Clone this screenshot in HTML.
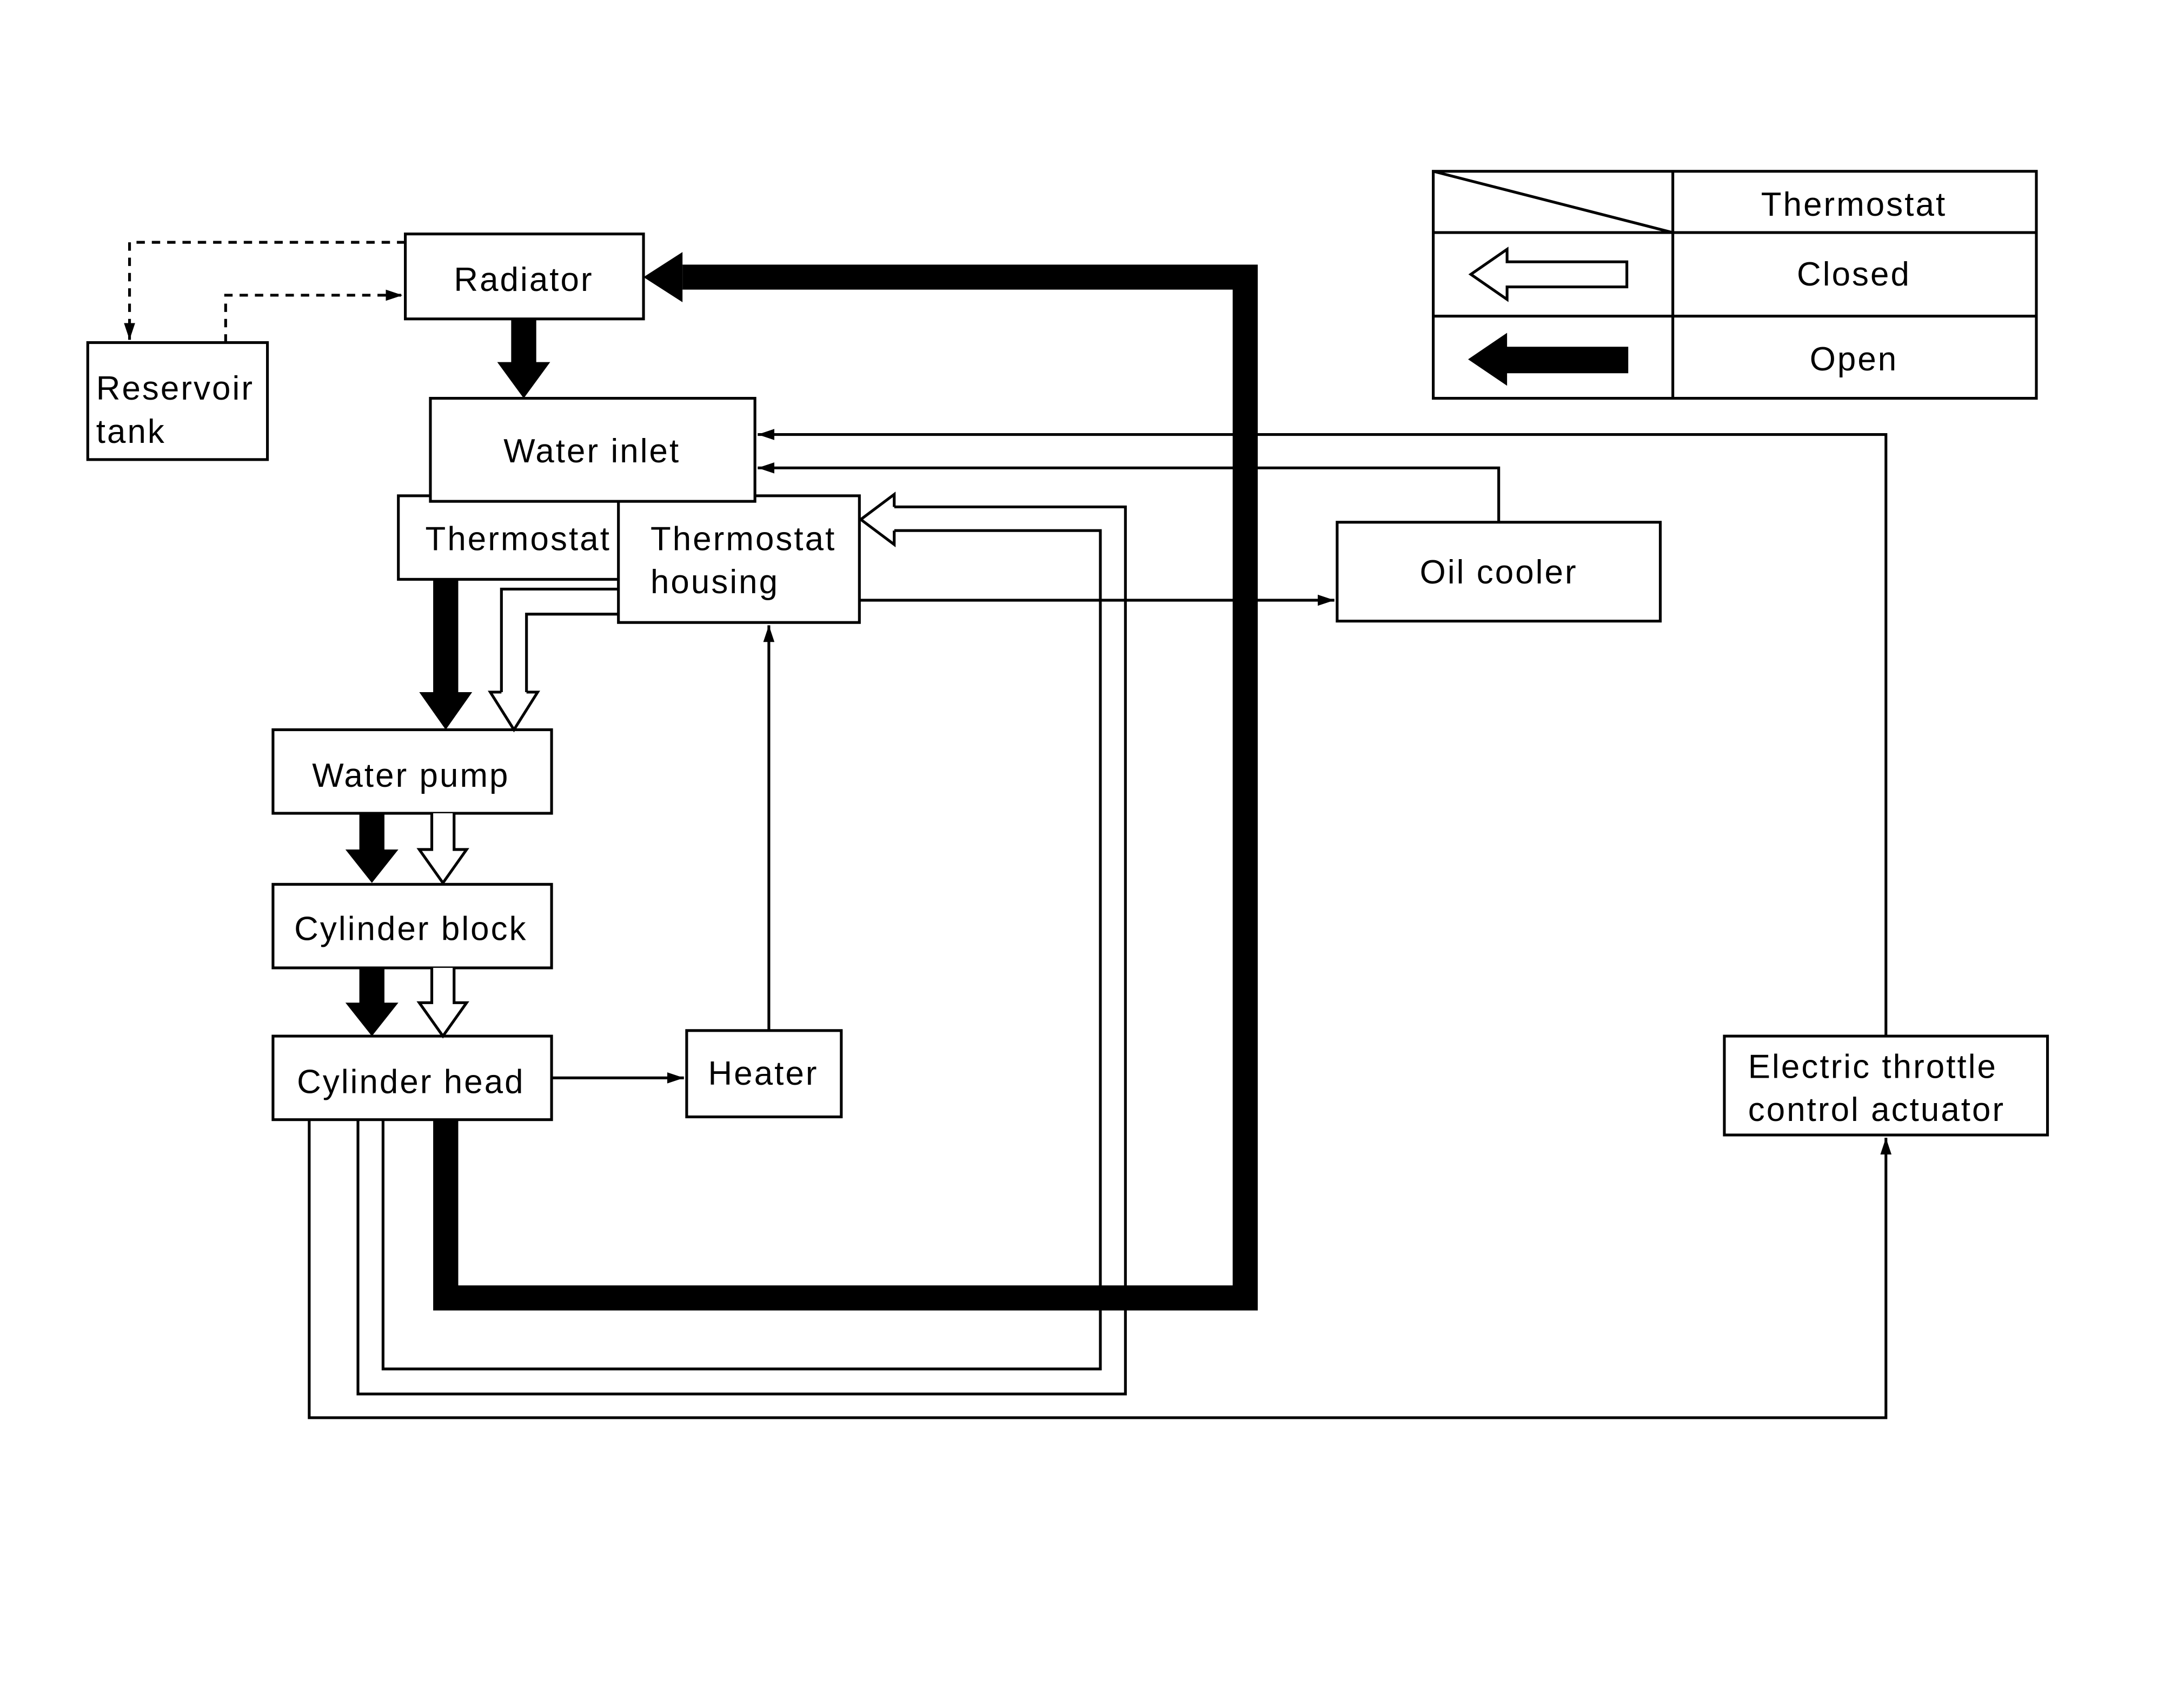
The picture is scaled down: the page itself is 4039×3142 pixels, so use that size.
<!DOCTYPE html>
<html><head><meta charset="utf-8"><style>
html,body{margin:0;padding:0;background:#fff;}
svg{display:block;}
text{font-family:"Liberation Sans",sans-serif;font-size:24px;letter-spacing:1.2px;fill:#000;}
</style></head><body>
<svg width="4039" height="3142" viewBox="0 0 1568 1220" preserveAspectRatio="none" xmlns="http://www.w3.org/2000/svg">
<defs>
<marker id="a" markerWidth="12" markerHeight="8" refX="12" refY="4" orient="auto" markerUnits="userSpaceOnUse"><path d="M0,0 L12,4 L0,8 z" fill="#000"/></marker>
</defs>
<g fill="none" stroke="#000" stroke-width="2">
<rect x="1029" y="123" width="433" height="163"/>
<line x1="1201" y1="123" x2="1201" y2="286"/>
<line x1="1029" y1="167" x2="1462" y2="167"/>
<line x1="1029" y1="227" x2="1462" y2="227"/>
<line x1="1029" y1="123" x2="1201" y2="167"/>
<rect x="291" y="168" width="171" height="61"/>
<rect x="63" y="246" width="129" height="84"/>
<rect x="286" y="356" width="173" height="60"/>
<rect x="444" y="356" width="173" height="91" fill="#fff"/>
<rect x="309" y="286" width="233" height="74" fill="#fff"/>
<rect x="960" y="375" width="232" height="71"/>
<rect x="196" y="524" width="200" height="60"/>
<rect x="196" y="635" width="200" height="60"/>
<rect x="196" y="744" width="200" height="60"/>
<rect x="493" y="740" width="111" height="62"/>
<rect x="1238" y="744" width="232" height="71"/>
<polyline points="291,174 93,174 93,244" stroke-dasharray="6,5" marker-end="url(#a)"/>
<polyline points="162,246 162,212 289,212" stroke-dasharray="6,5" marker-end="url(#a)"/>
<polyline points="222,804 222,1018 1354,1018 1354,817" marker-end="url(#a)"/>
<polyline points="1354,744 1354,312 544,312" marker-end="url(#a)"/>
<polyline points="1076,375 1076,336 544,336" marker-end="url(#a)"/>
<line x1="617" y1="431" x2="958" y2="431" marker-end="url(#a)"/>
<line x1="552" y1="740" x2="552" y2="449" marker-end="url(#a)"/>
<line x1="396" y1="774" x2="491" y2="774" marker-end="url(#a)"/>
<polyline points="257,804 257,1001 808,1001 808,364 642,364"/>
<polyline points="275,804 275,983 790,983 790,381 642,381"/>
<path d="M642,364 L642,355 L618,373 L642,391 L642,381" fill="#fff"/>
<polyline points="444,423 360,423 360,497"/>
<polyline points="444,441 378,441 378,497"/>
<path d="M360,497 L352,497 L369,524 L386,497 L378,497" fill="#fff"/>
<path d="M310,584 L310,610 L301,610 L318,634 L335,610 L326,610 L326,584" fill="#fff"/>
<path d="M310,695 L310,720 L301,720 L318,744 L335,720 L326,720 L326,695" fill="#fff"/>
<path d="M1168,188 L1168,206 L1082,206 L1082,215 L1056,197 L1082,179 L1082,188 Z" fill="#fff"/>
</g>
<g fill="#000" stroke="none">
<path d="M311,804 L329,804 L329,923 L885,923 L885,208 L490,208 L490,190 L903,190 L903,941 L311,941 Z"/>
<path d="M462,199 L490,181 L490,217 Z"/>
<path d="M367,229 L385,229 L385,260 L395,260 L376,286 L357,260 L367,260 Z"/>
<path d="M311,416 L329,416 L329,497 L339,497 L320,524 L301,497 L311,497 Z"/>
<path d="M258,584 L276,584 L276,610 L286,610 L267,634 L248,610 L258,610 Z"/>
<path d="M258,695 L276,695 L276,720 L286,720 L267,744 L248,720 L258,720 Z"/>
<path d="M1169,249 L1169,268 L1082,268 L1082,277 L1054,258 L1082,239 L1082,249 Z"/>
</g>
<text x="1331" y="155" text-anchor="middle">Thermostat</text>
<text x="1331" y="205" text-anchor="middle">Closed</text>
<text x="1331" y="266" text-anchor="middle">Open</text>
<text x="376" y="209" text-anchor="middle">Radiator</text>
<text x="69" y="287">Reservoir</text>
<text x="69" y="318">tank</text>
<text x="425" y="332" text-anchor="middle">Water inlet</text>
<text x="372" y="395" text-anchor="middle">Thermostat</text>
<text x="467" y="395">Thermostat</text>
<text x="467" y="426">housing</text>
<text x="1076" y="419" text-anchor="middle">Oil cooler</text>
<text x="295" y="565" text-anchor="middle">Water pump</text>
<text x="295" y="675" text-anchor="middle">Cylinder block</text>
<text x="295" y="785" text-anchor="middle">Cylinder head</text>
<text x="548" y="779" text-anchor="middle">Heater</text>
<text x="1255" y="774">Electric throttle</text>
<text x="1255" y="805">control actuator</text>
</svg>
</body></html>
